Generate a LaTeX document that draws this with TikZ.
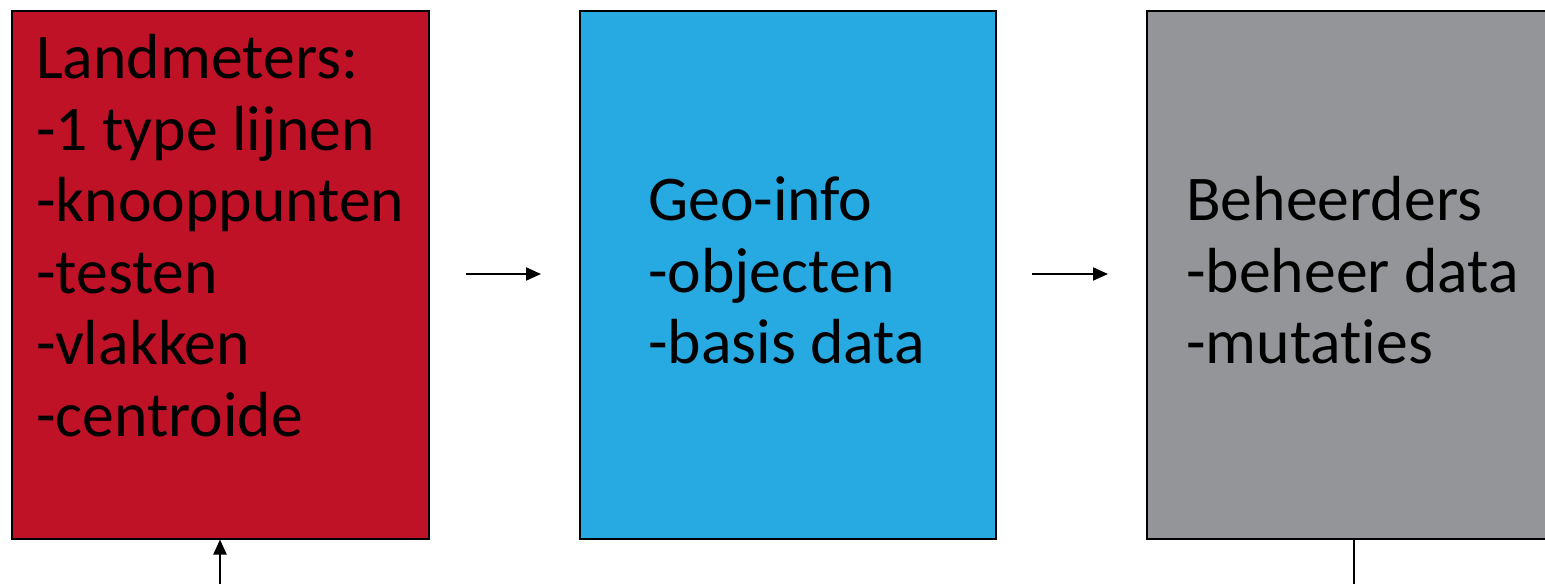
\documentclass[tikz,border=0pt]{standalone}
\usepackage{fontspec}
\setmainfont{Carlito}[Ligatures={NoCommon,NoRare,NoContextual}]
\usetikzlibrary{arrows.meta}
\definecolor{boxred}{HTML}{C01227}
\definecolor{boxblue}{HTML}{27A9E1}
\definecolor{boxgrey}{HTML}{939598}
\tikzset{
  panel/.style={draw=black, line width=1.5pt, rectangle, anchor=north west, inner sep=0pt},
  paneltext/.style={anchor=north west, align=left, inner sep=0pt, font=\fontsize{63.7}{71.5}\selectfont},
  conn/.style={draw=black, line width=2pt, -{Triangle[length=15pt, width=13pt]}},
  plain/.style={draw=black, line width=2pt}
}
\begin{document}
\begin{tikzpicture}[x=1pt, y=-1pt]
\useasboundingbox (0,0) rectangle (1545,584);
\node[panel, fill=boxred, minimum width=417pt, minimum height=528pt] (red) at (11,10) {};
\node[panel, fill=boxblue, minimum width=416pt, minimum height=528pt] (blue) at (579,10) {};
\node[panel, fill=boxgrey, minimum width=430pt, minimum height=528pt] (grey) at (1146,10) {};
\node[paneltext] (redtxt) at (36,34.5) {Landmeters:\\-1 type lijnen\\-knooppunten\\-testen\\-vlakken\\-centroide};
\node[paneltext] (bluetxt) at (648,176.5) {Geo-info\\-objecten\\-basis data};
\node[paneltext] (greytxt) at (1186,176.5) {Beheerders\\-beheer data\\-mutaties};
\coordinate (a1s) at (466,274);
\coordinate (a1e) at (541,274);
\coordinate (a2s) at (1032,274);
\coordinate (a2e) at (1108,274);
\coordinate (bot1) at (220,584);
\coordinate (bot2) at (1354,584);
\draw[conn] (a1s) -- (a1e);
\draw[conn] (a2s) -- (a2e);
\draw[conn] (bot1) -- (red.south -| bot1);
\draw[plain] (grey.south -| bot2) -- (bot2);
\end{tikzpicture}
\end{document}
